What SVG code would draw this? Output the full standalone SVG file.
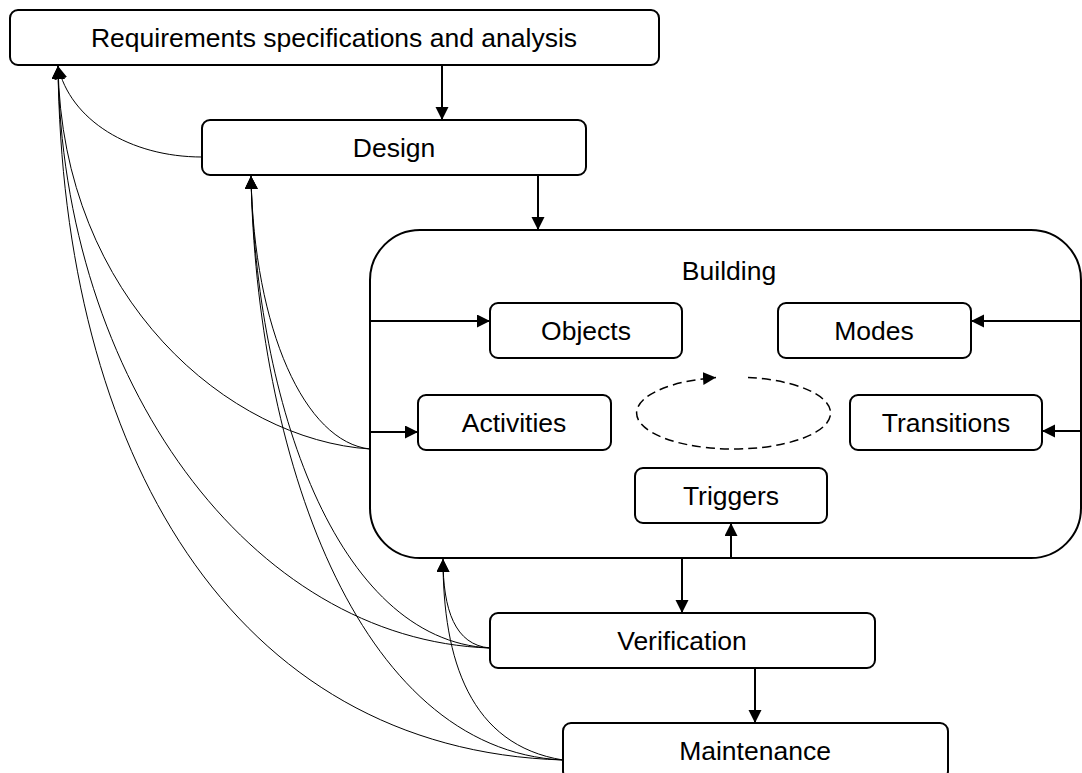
<svg xmlns="http://www.w3.org/2000/svg" width="1082" height="773" viewBox="0 0 1082 773">
  <style>
    .box { fill: #ffffff; stroke: #000000; stroke-width: 2; }
    .label { font-family: "Liberation Sans", Arial, sans-serif; font-size: 26.5px; fill: #000000; text-anchor: middle; }
    .flow { fill: none; stroke: #000000; stroke-width: 2; marker-end: url(#head); }
    .feedback { fill: none; stroke: #000000; stroke-width: 1; marker-end: url(#head); }
    .cycle { fill: none; stroke: #000000; stroke-width: 1.5; stroke-dasharray: 9 5; marker-end: url(#head); }
  </style>
  <defs>
    <marker id="head" markerUnits="userSpaceOnUse" markerWidth="14" markerHeight="14" refX="13" refY="6.5" orient="auto">
      <path d="M0,0 L13,6.5 L0,13 z" fill="#000000"/>
    </marker>
  </defs>

  <rect x="0" y="0" width="1082" height="773" fill="#ffffff"/>

  <!-- Building container (drawn first so inner nodes sit on top) -->
  <g id="building">
    <rect class="box" x="370" y="230" width="711" height="328" rx="50" ry="50"/>
    <text class="label" x="729" y="280">Building</text>
  </g>

  <g id="requirements">
    <rect class="box" x="10" y="10" width="649" height="55" rx="8" ry="8"/>
    <text class="label" x="334" y="47">Requirements specifications and analysis</text>
  </g>

  <g id="design">
    <rect class="box" x="202" y="120" width="384" height="55" rx="8" ry="8"/>
    <text class="label" x="394" y="157">Design</text>
  </g>

  <g id="objects">
    <rect class="box" x="490" y="303" width="192" height="55" rx="8" ry="8"/>
    <text class="label" x="586" y="340">Objects</text>
  </g>

  <g id="modes">
    <rect class="box" x="778" y="303" width="193" height="55" rx="8" ry="8"/>
    <text class="label" x="874" y="340">Modes</text>
  </g>

  <g id="activities">
    <rect class="box" x="418" y="395" width="193" height="55" rx="8" ry="8"/>
    <text class="label" x="514" y="432">Activities</text>
  </g>

  <g id="transitions">
    <rect class="box" x="850" y="395" width="192" height="55" rx="8" ry="8"/>
    <text class="label" x="946" y="432">Transitions</text>
  </g>

  <g id="triggers">
    <rect class="box" x="635" y="468" width="192" height="55" rx="8" ry="8"/>
    <text class="label" x="731" y="505">Triggers</text>
  </g>

  <g id="verification">
    <rect class="box" x="490" y="613" width="385" height="55" rx="8" ry="8"/>
    <text class="label" x="682" y="650">Verification</text>
  </g>

  <g id="maintenance">
    <rect class="box" x="563" y="723" width="385" height="56" rx="8" ry="8"/>
    <text class="label" x="755" y="760">Maintenance</text>
  </g>

  <g id="connectors">
    <!-- main top-down flow -->
    <path class="flow" d="M442,65 L442,120"/>
    <path class="flow" d="M538,175 L538,230"/>
    <path class="flow" d="M682,558 L682,613"/>
    <path class="flow" d="M755,668 L755,723"/>

    <!-- links inside the building stage -->
    <path class="flow" d="M370,321 L490,321"/>
    <path class="flow" d="M1082,321 L971,321"/>
    <path class="flow" d="M370,432 L418,432"/>
    <path class="flow" d="M1082,431 L1042,431"/>
    <path class="flow" d="M731,558 L731,523"/>

    <!-- iteration cycle -->
    <path class="cycle" d="M748,377.4 A97,36 0 1 1 716,377.6"/>

    <!-- feedback to requirements -->
    <path class="feedback" d="M202,157 C130,157 70,120 58,66"/>
    <path class="feedback" d="M370,449 C230,440 62,300 58,66"/>
    <path class="feedback" d="M490,648 C250,640 62,380 58,66"/>
    <path class="feedback" d="M563,760 C230,750 62,450 58,66"/>

    <!-- feedback to design -->
    <path class="feedback" d="M370,449 C305,442 254,330 251,176"/>
    <path class="feedback" d="M490,648 C335,640 256,400 251,176"/>
    <path class="feedback" d="M563,760 C355,750 256,450 251,176"/>

    <!-- feedback to building -->
    <path class="feedback" d="M490,648 C455,645 443,610 443,559"/>
    <path class="feedback" d="M563,760 C470,745 443,660 443,559"/>
  </g>
</svg>
